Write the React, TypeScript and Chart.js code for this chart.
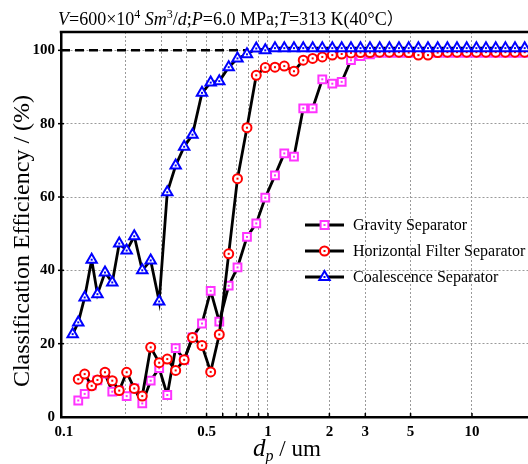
import React, { useEffect, useRef } from 'react';
import { Chart, registerables } from 'chart.js';

Chart.register(...registerables);

// particle diameters (um) shared by gravity & horizontal filter series
const particleSizes = [
  0.1175, 0.1263, 0.1367, 0.1459, 0.1589, 0.1725, 0.1866, 0.2029, 0.2211, 0.242,
  0.2661, 0.2929, 0.3209, 0.3528, 0.3883, 0.4265, 0.4748, 0.5238, 0.5772, 0.6419,
  0.7088, 0.7889, 0.8762, 0.97, 1.0822, 1.2021, 1.341, 1.489, 1.656, 1.846,
  2.067, 2.298, 2.552, 2.841, 3.162, 3.528, 3.937, 4.387, 4.895, 5.462,
  6.086, 6.79, 7.577, 8.443, 9.419, 10.51, 11.71, 13.07, 14.58, 16.25,
  18.13, 20.23,
];
const coalescenceSizes = [
  0.1103, 0.1175, 0.1263, 0.1367, 0.1459, 0.1589, 0.1725, 0.1866, 0.2029, 0.2211,
  0.242, 0.2661, 0.2929, 0.3209, 0.3528, 0.3883, 0.4265, 0.4748, 0.5238, 0.5772,
  0.6419, 0.7088, 0.7889, 0.8762, 0.97, 1.0822, 1.2021, 1.341, 1.489, 1.656,
  1.846, 2.067, 2.298, 2.552, 2.841, 3.162, 3.528, 3.937, 4.387, 4.895,
  5.462, 6.086, 6.79, 7.577, 8.443, 9.419, 10.51, 11.71, 13.07, 14.58,
  16.25, 18.13, 20.23,
];

const gravityEff = [
  4.5, 6.3, 8.6, 10.0, 11.8, 6.9, 7.2, 5.7, 7.8, 3.7,
  9.9, 13.3, 6.0, 18.8, 15.6, 21.7, 25.5, 34.4, 26.0, 35.8,
  40.8, 49.1, 52.8, 59.8, 65.9, 71.9, 71.0, 84.2, 84.2, 92.1,
  90.9, 91.4, 97.3, 98.4, 98.9, 99.3, 99.3, 99.3, 99.3, 99.3,
  99.3, 99.3, 99.3, 99.3, 99.3, 99.3, 99.3, 99.3, 99.3, 99.3,
  99.3, 99.3,
];
const horizontalEff = [
  10.3, 11.7, 8.5, 10.1, 12.2, 9.9, 7.2, 12.2, 7.8, 5.7,
  19.0, 14.8, 15.8, 12.7, 15.6, 21.7, 19.5, 12.3, 22.5, 44.5,
  65.0, 78.9, 93.2, 95.3, 95.4, 95.7, 94.3, 97.3, 97.8, 98.2,
  98.7, 99.0, 99.3, 99.4, 99.4, 99.5, 99.5, 99.5, 99.4, 98.7,
  98.7, 99.4, 99.5, 99.5, 99.5, 99.5, 99.5, 99.5, 99.5, 99.5,
  99.5, 99.5,
];
const coalescenceEff = [
  22.6, 25.8, 32.6, 42.9, 33.5, 39.4, 36.7, 47.3, 45.4, 49.3,
  40.0, 42.7, 31.5, 61.3, 68.6, 73.7, 77.0, 88.4, 91.2, 91.6,
  95.4, 97.8, 98.9, 100.5, 100.0, 100.6, 100.6, 100.6, 100.6, 100.6,
  100.6, 100.6, 100.6, 100.6, 100.6, 100.6, 100.6, 100.6, 100.6, 100.6,
  100.6, 100.6, 100.6, 100.6, 100.6, 100.6, 100.6, 100.6, 100.6, 100.6,
  100.6, 100.6, 100.6,
];

const refLineX = [0.0967, 0.8];
const refLineY = [100, 100];

const seriesNames = ['Gravity Separator', 'Horizontal Filter Separator', 'Coalescence Separator'];
const seriesColors = ['#ff33ff', '#ff0000', '#0000ff'];
const seriesStyles = ['rect', 'circle', 'triangle'];

const xTickValues = [0.1, 0.2, 0.3, 0.4, 0.5, 0.6, 0.7, 0.8, 0.9, 1, 2, 3, 5, 10];
const xTickLabels = ['0.1', '0.5', '1', '2', '3', '5', '10'];
const xMarkValues = [0.5, 0.6, 0.7, 0.8, 0.9, 1, 2, 3, 5, 10];
const yTickValues = [0, 20, 40, 60, 80, 100];

const SERIF = '"Liberation Serif", "Times New Roman", "Noto Sans CJK SC", serif';

type Seg = { text: string; size: number; italic?: boolean; dy?: number; cjk?: boolean };

function fontOf(s: Seg) {
  const fam = s.cjk ? '"Noto Sans CJK SC", sans-serif' : SERIF;
  return `${s.italic ? 'italic ' : ''}${s.size}px ${fam}`;
}
function segWidth(ctx: CanvasRenderingContext2D, segs: Seg[]) {
  let w = 0;
  for (const s of segs) {
    ctx.font = fontOf(s);
    w += ctx.measureText(s.text).width;
  }
  return w;
}
function drawRich(ctx: CanvasRenderingContext2D, x: number, y: number, segs: Seg[]) {
  for (const s of segs) {
    ctx.font = fontOf(s);
    ctx.fillText(s.text, x, y + (s.dy || 0));
    x += ctx.measureText(s.text).width;
  }
}

function drawMarker(ctx: CanvasRenderingContext2D, style: string, x: number, y: number, color: string) {
  ctx.save();
  ctx.lineWidth = 2;
  ctx.strokeStyle = color;
  ctx.fillStyle = '#ffffff';
  ctx.beginPath();
  if (style === 'rect') {
    const s = 3.9;
    ctx.rect(x - s, y - s, 2 * s, 2 * s);
  } else if (style === 'circle') {
    ctx.arc(x, y, 4.5, 0, Math.PI * 2);
  } else {
    const r = 6;
    for (let k = 0; k < 3; k++) {
      const a = (k * 2 * Math.PI) / 3;
      const px = x + Math.sin(a) * r;
      const py = y - Math.cos(a) * r;
      if (k === 0) ctx.moveTo(px, py);
      else ctx.lineTo(px, py);
    }
    ctx.closePath();
  }
  ctx.fill();
  ctx.stroke();
  ctx.fillStyle = color;
  ctx.fillRect(x - 1, y - 1, 2, 2);
  ctx.restore();
}

const decorPlugin = {
  id: 'decor',
  afterDatasetDraw(chart: any, args: any) {
    const ds = chart.data.datasets[args.index];
    if (!ds.dotColor) return;
    const ctx = chart.ctx as CanvasRenderingContext2D;
    const a = chart.chartArea;
    ctx.save();
    ctx.beginPath();
    ctx.rect(a.left, a.top, a.right - a.left, a.bottom - a.top);
    ctx.clip();
    ctx.fillStyle = ds.dotColor;
    for (const p of args.meta.data) {
      ctx.fillRect(p.x - 1, p.y - 1, 2, 2);
    }
    ctx.restore();
  },
  afterDraw(chart: any) {
    const ctx = chart.ctx as CanvasRenderingContext2D;
    const a = chart.chartArea;
    const xs = chart.scales.x;
    const ys = chart.scales.y;
    ctx.save();
    // top border
    ctx.strokeStyle = '#000';
    ctx.lineWidth = 2.5;
    ctx.beginPath();
    ctx.moveTo(a.left - 1.25, a.top);
    ctx.lineTo(a.right, a.top);
    ctx.stroke();
    // tick marks
    ctx.lineWidth = 1.5;
    for (const v of xMarkValues) {
      const px = xs.getPixelForValue(v);
      ctx.beginPath();
      ctx.moveTo(px, a.bottom);
      ctx.lineTo(px, a.bottom - 4);
      ctx.stroke();
    }
    for (const v of yTickValues) {
      if (v === 0) continue;
      const py = ys.getPixelForValue(v);
      ctx.beginPath();
      ctx.moveTo(a.left - 3, py);
      ctx.lineTo(a.left + 3, py);
      ctx.stroke();
    }
    ctx.fillStyle = '#000';
    ctx.textBaseline = 'alphabetic';
    ctx.textAlign = 'left';
    // title
    drawRich(ctx, 58, 25, [
      { text: 'V', size: 18, italic: true },
      { text: '=600×10', size: 18 },
      { text: '4', size: 12, dy: -7 },
      { text: ' ', size: 18 },
      { text: 'Sm', size: 18, italic: true },
      { text: '3', size: 12, dy: -7 },
      { text: '/', size: 18 },
      { text: 'd', size: 18, italic: true },
      { text: ';', size: 18 },
      { text: 'P', size: 18, italic: true },
      { text: '=6.0 MPa;', size: 18 },
      { text: 'T', size: 18, italic: true },
      { text: '=313 K(40°C', size: 18 },
      { text: '）', size: 17, cjk: true },
    ]);
    // x title
    const xt: Seg[] = [
      { text: 'd', size: 25, italic: true },
      { text: 'p', size: 16, italic: true, dy: 5 },
      { text: ' / um', size: 23 },
    ];
    const w = segWidth(ctx, xt);
    drawRich(ctx, 287 - w / 2, 456, xt);
    // y title
    ctx.save();
    ctx.translate(23, 241);
    ctx.rotate(-Math.PI / 2);
    ctx.textAlign = 'center';
    ctx.textBaseline = 'middle';
    ctx.font = `24px ${SERIF}`;
    ctx.fillText('Classification Efficiency / (%)', 0, 0);
    ctx.restore();
    // legend
    const rows = [225, 251, 277];
    for (let i = 0; i < 3; i++) {
      const y = rows[i];
      ctx.strokeStyle = '#000';
      ctx.lineWidth = 2.8;
      ctx.beginPath();
      ctx.moveTo(305, y);
      ctx.lineTo(344, y);
      ctx.stroke();
      drawMarker(ctx, seriesStyles[i], 324.5, y, seriesColors[i]);
      ctx.fillStyle = '#000';
      ctx.font = `16px ${SERIF}`;
      ctx.textBaseline = 'middle';
      ctx.textAlign = 'left';
      ctx.fillText(seriesNames[i], 353, y + 1);
    }
    ctx.restore();
  },
};

export default function App() {
  const ref = useRef<HTMLCanvasElement | null>(null);
  useEffect(() => {
    if (!ref.current) return;
    const mk = (xsArr: number[], ysArr: number[]) => xsArr.map((x, i) => ({ x, y: ysArr[i] }));
    const common = {
      borderColor: '#000000',
      borderWidth: 2.8,
      tension: 0,
      pointBackgroundColor: '#ffffff',
      pointBorderWidth: 2,
      fill: false,
    };
    const chart = new Chart(ref.current, {
      type: 'line',
      data: {
        datasets: [
          {
            ...common,
            label: seriesNames[0],
            data: mk(particleSizes, gravityEff),
            pointStyle: 'rect',
            pointRadius: 5.5,
            pointBorderColor: seriesColors[0],
            order: 3,
            dotColor: seriesColors[0],
          } as any,
          {
            ...common,
            label: seriesNames[1],
            data: mk(particleSizes, horizontalEff),
            pointStyle: 'circle',
            pointRadius: 4.5,
            pointBorderColor: seriesColors[1],
            order: 2,
            dotColor: seriesColors[1],
          } as any,
          {
            ...common,
            label: seriesNames[2],
            data: mk(coalescenceSizes, coalescenceEff),
            pointStyle: 'triangle',
            pointRadius: 6,
            pointBorderColor: seriesColors[2],
            order: 1,
            dotColor: seriesColors[2],
          } as any,
          {
            label: 'ref',
            data: mk(refLineX, refLineY),
            borderColor: '#000000',
            borderWidth: 2.5,
            borderDash: [9, 5],
            pointRadius: 0,
            order: 4,
          } as any,
        ],
      },
      options: {
        responsive: false,
        animation: false,
        devicePixelRatio: 1,
        layout: { padding: { left: 0, top: 32, right: 15, bottom: 0 } },
        plugins: { legend: { display: false }, tooltip: { enabled: false }, title: { display: false } },
        scales: {
          x: {
            type: 'logarithmic',
            min: 0.0967,
            max: 22.8,
            afterBuildTicks: (scale: any) => {
              scale.ticks = xTickValues.map((v) => ({ value: v }));
            },
            afterFit: (scale: any) => {
              scale.height = 47;
            },
            ticks: {
              autoSkip: false,
              maxRotation: 0,
              padding: 6,
              color: '#000',
              font: { family: SERIF, size: 15, weight: 'bold' },
              callback: (v: any) => {
                const s = String(Number(v));
                return xTickLabels.includes(s) ? s : '';
              },
            },
            grid: {
              drawTicks: false,
              lineWidth: 1,
              color: (c: any) => (c.tick && c.tick.value === 0.1 ? 'rgba(0,0,0,0)' : '#9a9a9a'),
            },
            border: { display: true, color: '#000', width: 2.5, dash: [2, 2] },
          },
          y: {
            type: 'linear',
            min: 0,
            max: 105,
            afterBuildTicks: (scale: any) => {
              scale.ticks = yTickValues.map((v) => ({ value: v }));
            },
            afterFit: (scale: any) => {
              scale.width = 61;
            },
            ticks: {
              padding: 6,
              color: '#000',
              font: { family: SERIF, size: 15, weight: 'bold' },
            },
            grid: {
              drawTicks: false,
              lineWidth: 1,
              color: (c: any) => (c.tick && c.tick.value === 0 ? 'rgba(0,0,0,0)' : '#9a9a9a'),
            },
            border: { display: true, color: '#000', width: 2.5, dash: [2, 2] },
          },
        },
      } as any,
      plugins: [decorPlugin],
    });
    return () => chart.destroy();
  }, []);
  return (
    <div style={{ position: 'fixed', left: 0, top: 0, width: 528, height: 464, overflow: 'hidden', background: '#fff' }}>
      <canvas ref={ref} width={560} height={464} style={{ width: 560, height: 464, display: 'block' }} />
    </div>
  );
}
